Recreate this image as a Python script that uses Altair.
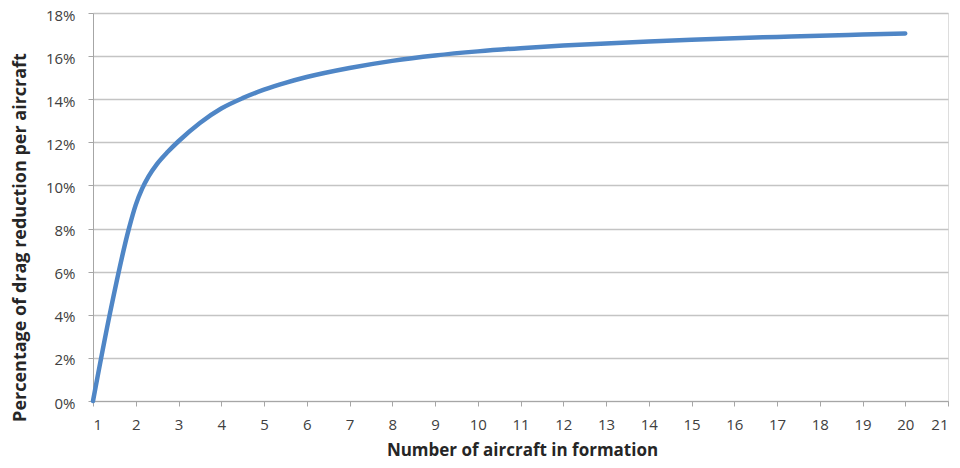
import altair as alt
import pandas as pd

# Number of aircraft in formation (sampled along the smooth curve)
aircraft = [1, 1.4, 1.84, 2.0, 2.15, 2.3, 2.5, 2.75, 3, 3.5, 4, 4.5, 5, 5.5,
            6, 7, 8, 9, 10, 11, 12, 13, 14, 15, 16, 17, 18, 19, 20]
# Percentage of drag reduction per aircraft (%)
drag_pct = [0.0, 4.1, 8.0, 9.1, 9.85, 10.42, 11.0, 11.56, 12.05, 12.9, 13.57, 14.05, 14.44, 14.76,
            15.03, 15.45, 15.78, 16.03, 16.22, 16.37, 16.49, 16.59, 16.68, 16.76, 16.83, 16.89, 16.95, 17.0, 17.05]
x_ticks = list(range(1, 22))
y_ticks = [0, 0.02, 0.04, 0.06, 0.08, 0.10, 0.12, 0.14, 0.16, 0.18]

df = pd.DataFrame({"n": aircraft, "drag": [v / 100 for v in drag_pct]})

FONT = "Open Sans"
line = alt.Chart(df).mark_line(
    color="#4F86C6", strokeWidth=4.5, interpolate="monotone", strokeCap="round"
).encode(
    x=alt.X("n:Q", scale=alt.Scale(domain=[1, 21], nice=False, zero=False),
            axis=alt.Axis(values=x_ticks, title="Number of aircraft in formation",
                          grid=False, tickSize=5, tickColor="#a6a6a6", domainColor="#a6a6a6",
                          labelPadding=11, labelFontSize=15, labelColor="#404040",
                          labelFont=FONT, titleFont=FONT, titleFontSize=17,
                          titleFontWeight="bold", titleColor="#262626",
                          titleBaseline="middle", titleY=49, titleX=429)),
    y=alt.Y("drag:Q", scale=alt.Scale(domain=[0, 0.18], nice=False),
            axis=alt.Axis(values=y_ticks, format=".0%", title="Percentage of drag reduction per aircraft",
                          grid=True, gridColor="#c4c4c4", gridWidth=1.3, tickSize=5,
                          tickColor="#a6a6a6", domainColor="#a6a6a6", labelOffset=2,
                          labelPadding=13, labelFontSize=15, labelColor="#404040",
                          labelFont=FONT, titleFont=FONT, titleFontSize=18,
                          titleFontWeight="bold", titleColor="#262626",
                          titleAngle=270, titleBaseline="bottom", titleAlign="center",
                          titleX=-64, titleY=224)),
)

chart = line.properties(
    width=855, height=388,
    autosize=alt.AutoSizeParams(type="none"),
    padding={"left": 85, "top": 5, "right": 4, "bottom": 59},
).configure_view(stroke=None).configure(background="white")

chart.save("out.html", embed_options={"renderer": "svg", "actions": False})
